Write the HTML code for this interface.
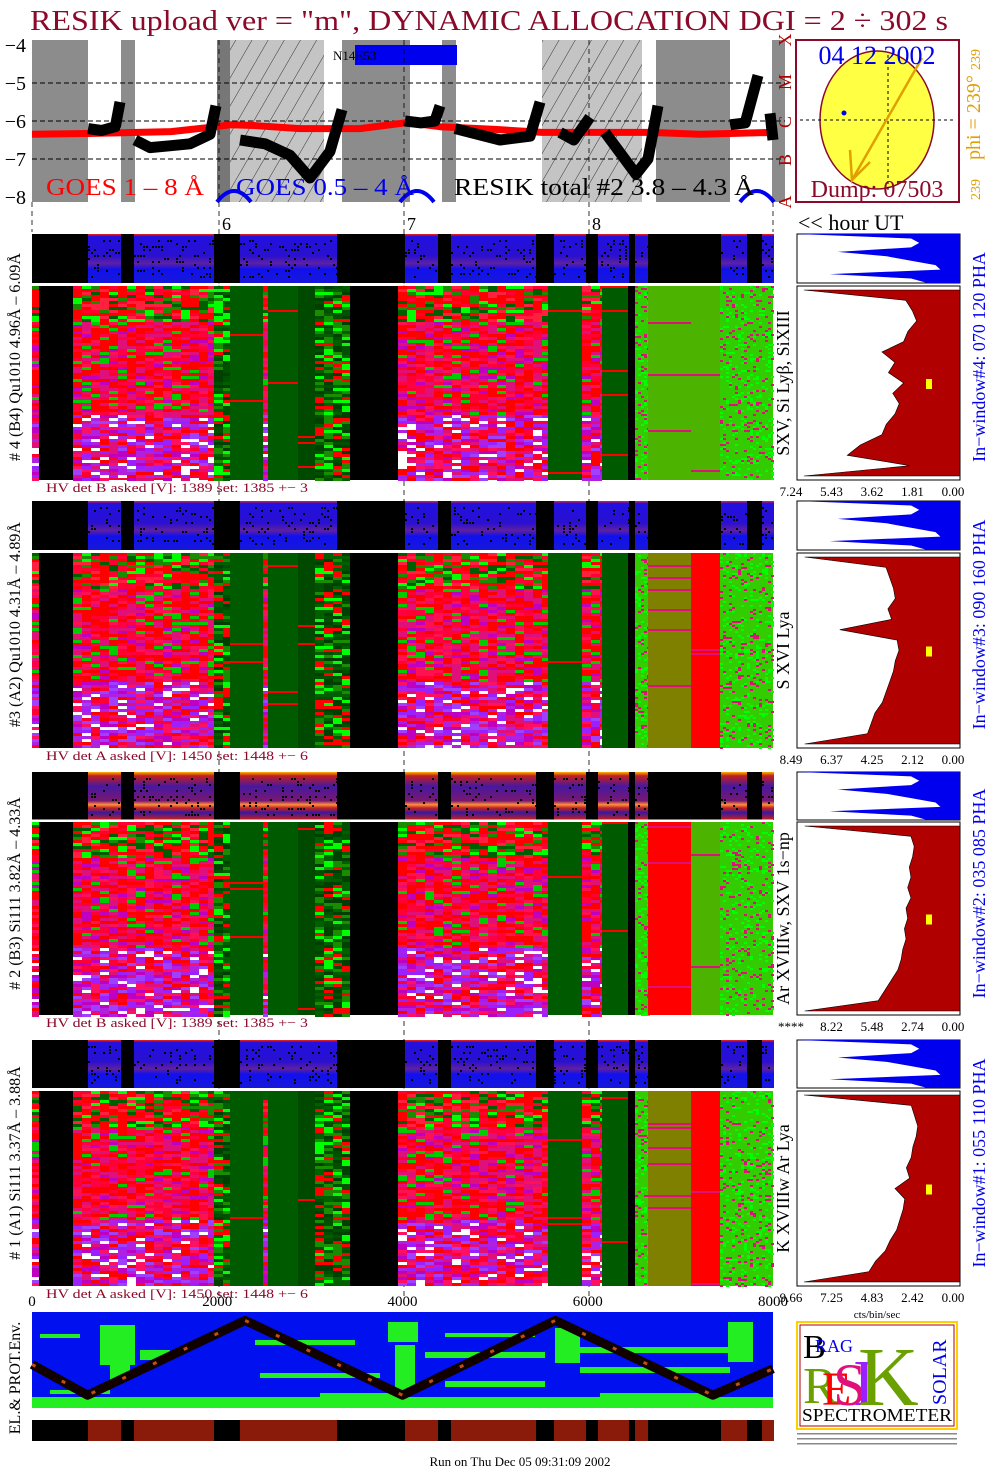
<!DOCTYPE html>
<html><head><meta charset="utf-8"><style>
html,body{margin:0;padding:0;background:#fff;width:1004px;height:1477px;overflow:hidden}
svg{display:block;font-family:"Liberation Serif",serif}
</style></head><body>
<svg id="c" width="1004" height="1477" viewBox="0 0 1004 1477" xmlns="http://www.w3.org/2000/svg">
<text x="30" y="30" font-size="29" fill="#8b0a2a" textLength="918" lengthAdjust="spacingAndGlyphs">RESIK upload ver = "m", DYNAMIC ALLOCATION  DGI =   2 ÷ 302 s</text>
</svg>
<script>
// ---- data ----
const goesT=[0,605,1500,1986,2138,2400,2893,3541,4027,4081,4405,5000,5506,6672,7212,8000];
const goesV=[-6.35,-6.33,-6.28,-6.15,-6.1,-6.12,-6.2,-6.2,-6.05,-6.05,-6.15,-6.22,-6.3,-6.3,-6.35,-6.3];
const resikT1=[605,750,900,950];const resikV1=[-6.2,-6.25,-6.15,-5.5];
const resikT2=[1112,1274,1500,1706,1922,1986];const resikV2=[-6.5,-6.7,-6.65,-6.6,-6.35,-5.6];
const resikT3=[2246,2515,2785,3001,3217,3347];const resikV3=[-6.5,-6.6,-6.9,-7.5,-6.8,-5.7];
const resikT4=[4027,4200,4350,4405];const resikV4=[-6.0,-6.05,-6.0,-5.6];
const resikT5=[4567,5053,5377,5485];const resikV5=[-6.2,-6.5,-6.4,-5.5];
const resikT6=[5700,5850,6024];const resikV6=[-6.3,-6.5,-5.9];
const resikT7=[6186,6521,6650,6758];const resikV7=[-6.3,-7.4,-7.0,-5.6];
const resikT8=[7536,7700,7838];const resikV8=[-6.1,-6.05,-4.8];
const resikT9=[7968,8000];const resikV9=[-5.8,-6.5];
const yTicks=[-4,-5,-6,-7,-8];
const xTicks=[0,2000,4000,6000,8000];
const hist4=[7.2,2.5,2.2,2.0,2.4,2.6,3.6,3.0,3.3,2.6,3.1,2.8,3.0,3.4,3.6,4.6,5.2,2.3,7.2];
const hist3=[8.4,4.0,3.8,3.6,3.5,3.9,3.7,6.5,3.4,3.3,3.5,3.6,3.8,4.0,4.2,4.6,4.8,5.0,8.4];
const hist2=[9.5,3.0,2.8,2.9,3.1,3.0,3.2,3.0,3.3,3.2,3.4,3.3,3.5,3.6,3.8,4.2,4.6,5.0,9.5];
const hist1=[9.6,3.0,2.8,2.6,2.7,2.9,3.0,3.3,3.1,4.0,3.4,3.5,3.7,3.9,4.3,4.6,5.2,5.6,9.6];
const histS=[1.0,0.3,0.25,0.3,0.75,0.45,0.3,0.15,0.12,0.8,0.3,0.2];
const histTick4=["7.24","5.43","3.62","1.81","0.00"];
const histTick3=["8.49","6.37","4.25","2.12","0.00"];
const histTick2=["****","8.22","5.48","2.74","0.00"];
const histTick1=["9.66","7.25","4.83","2.42","0.00"];
// ---- helpers ----
const S=document.getElementById('c');const NS='http://www.w3.org/2000/svg';
function E(t,a,p){const e=document.createElementNS(NS,t);for(const k in a)e.setAttribute(k,a[k]);(p||S).appendChild(e);return e;}
const X0=32,X1=773;
function xs(t){return X0+t/8000*(X1-X0);}
function ys(v){return 45+(-4-v)*38;}
function hsh(a,b){let h=(a*374761393+b*668265263)|0;h=(h^(h>>>13))*1274126177|0;return ((h^(h>>>16))>>>0)/4294967296;}
// ---- top panel ----
const bands=[[32,88,'#8c8c8c'],[88,121,'#fff'],[121,135,'#8c8c8c'],[135,217,'#fff'],[217,230,'#777'],[230,324,'#c4c4c4'],[324,342,'#fff'],[342,410,'#8c8c8c'],[410,442,'#fff'],[442,456,'#8c8c8c'],[456,542,'#fff'],[542,642,'#c4c4c4'],[642,656,'#fff'],[656,730,'#8c8c8c'],[730,772,'#fff'],[772,785,'#8c8c8c']];
const defs=E('defs',{});const pat=E('pattern',{id:'hatch',width:14,height:14,patternUnits:'userSpaceOnUse',patternTransform:'rotate(30)'},defs);E('line',{x1:0,y1:0,x2:0,y2:14,stroke:'#333','stroke-width':1},pat);
const topG=E('g',{});
bands.forEach(b=>{const r=E('rect',{x:b[0],y:40,width:b[1]-b[0],height:162,fill:b[2]},topG);
 if(b[2]=='#c4c4c4')E('rect',{x:b[0],y:40,width:b[1]-b[0],height:162,fill:'url(#hatch)'},topG);});
E('rect',{x:355,y:45,width:102,height:20,fill:'#0000ee'},topG);
const nt=E('text',{x:333,y:60,'font-size':13,fill:'#000'},topG);nt.textContent='N14E53';
[-5,-6,-7].forEach(v=>E('line',{x1:32,x2:785,y1:ys(v),y2:ys(v),stroke:'#000','stroke-dasharray':'5,3'},topG));
yTicks.forEach(v=>{const t=E('text',{x:26,y:ys(v)+7,'font-size':20,'text-anchor':'end'});t.textContent='−'+(-v);});
function line(T,V,col,w,name){const p=E('polyline',{points:T.map((t,i)=>xs(t)+','+ys(V[i])).join(' '),fill:'none',stroke:col,'stroke-width':w,'stroke-linejoin':'round'},topG);}
line(goesT,goesV,'#ff0000',7,'goes-1-8-line');
[[resikT1,resikV1],[resikT2,resikV2],[resikT3,resikV3],[resikT4,resikV4],[resikT5,resikV5],[resikT6,resikV6],[resikT7,resikV7],[resikT8,resikV8],[resikT9,resikV9]].forEach(s=>line(s[0],s[1],'#000',11,'resik-total-line'));
[[217,0],[400,0],[740,0]].forEach(a=>E('path',{d:`M${a[0]} 202 Q${a[0]+17} 180 ${a[0]+34} 202`,fill:'none',stroke:'#0000ee','stroke-width':4},topG));
function tx(x,y,s,fs,col,name,extra){const t=E('text',Object.assign({x:x,y:y,'font-size':fs,fill:col},extra||{}));t.textContent=s;return t;}
tx(46,195,'GOES 1 – 8 Å',24,'#ff0000','legend-goes-1-8',{textLength:158,lengthAdjust:'spacingAndGlyphs'});
tx(236,195,'GOES 0.5 – 4 Å',24,'#0000ee','legend-goes-05-4',{textLength:178,lengthAdjust:'spacingAndGlyphs'});
tx(454,195,'RESIK total #2  3.8 – 4.3 Å',24,'#000','legend-resik-total',{textLength:300,lengthAdjust:'spacingAndGlyphs'});
[['A',202],['B',160],['C',122],['M',82],['X',40]].forEach(a=>tx(791,a[1],a[0],18,'#b00000','goes-class-label',{transform:`rotate(-90 791 ${a[1]})`,'text-anchor':'middle'}));
// hour axis
[[219,'6'],[404,'7'],[589,'8']].forEach(h=>{E('line',{x1:h[0],x2:h[0],y1:40,y2:1300,stroke:'#000','stroke-dasharray':'5,4','stroke-width':0.8});tx(h[0]+3,230,h[1],18,'#000','hour-tick-label');});
E('line',{x1:32,x2:32,y1:202,y2:232,stroke:'#000','stroke-dasharray':'5,4','stroke-width':0.8});
E('line',{x1:773,x2:773,y1:202,y2:232,stroke:'#000','stroke-dasharray':'5,4','stroke-width':0.8});
tx(798,230,'<< hour UT',22,'#000','hour-ut-label');
// sun panel
E('rect',{x:796,y:40,width:163,height:162,fill:'#fff',stroke:'#8b0a2a','stroke-width':2});
E('ellipse',{cx:877,cy:120,rx:57,ry:69,fill:'#ffff44',stroke:'#8b0a2a','stroke-width':1.5});
E('line',{x1:800,x2:955,y1:120,y2:120,stroke:'#000','stroke-dasharray':'3,3'});
E('line',{x1:888,x2:888,y1:55,y2:190,stroke:'#000','stroke-dasharray':'3,3'});
E('polyline',{points:'922,58 852,180 850,150 852,180 870,162',fill:'none',stroke:'#e0a000','stroke-width':2.5});
E('circle',{cx:844,cy:113,r:2.5,fill:'#0000ee'});
tx(877,64,'04 12 2002',26,'#0000ee','date-label',{'text-anchor':'middle'});
tx(877,197,'Dump: 07503',24,'#8b0a2a','dump-label',{'text-anchor':'middle'});
tx(980,200,'239',14,'#e0a000','phi-small',{transform:'rotate(-90 980 200)'});
tx(980,160,'phi = 239°',20,'#e0a000','phi-label',{transform:'rotate(-90 980 160)'});
tx(980,70,'239',14,'#e0a000','phi-small-top',{transform:'rotate(-90 980 70)'});
// ---- detector panels ----
const smallBlue=[[88,121],[134,214],[240,337],[405,438],[451,536],[554,586],[598,629],[635,648],[721,747],[762,774]];
const bigSegs=[[32,39,'mix'],[39,73,'k'],[73,214,'mix'],[214,230,'mixg'],[230,263,'dg'],[263,268,'mix'],[268,298,'dg'],[298,315,'dg2'],[315,350,'mixg'],[350,398,'k'],[398,548,'mix'],[548,582,'dg'],[582,602,'mix'],[602,628,'dg'],[628,635,'k'],[635,648,'sp']];
const dets=[
 {y0:234,y1:283,b0:286,b1:480,hv:'HV det B asked [V]:  1389 set:  1385 +−    3',lab:'# 4 (B4) Qu1010 4.96Å – 6.09Å',line:'SXV, Si Lyβ, SiXIII',win:'In−window#4:  070 120 PHA',right:[[648,691,'grs'],[691,720,'grs'],[720,773,'sp']],small:'blue',hist:hist4,ht:histTick4},
 {y0:501,y1:550,b0:553,b1:748,hv:'HV det A asked [V]:  1450 set:  1448 +−    6',lab:'#3 (A2) Qu1010  4.31Å – 4.89Å',line:'S XVI Lya',win:'In−window#3:  090 160 PHA',right:[[648,691,'ol'],[691,720,'rd'],[720,773,'sp']],small:'blue',hist:hist3,ht:histTick3},
 {y0:772,y1:820,b0:822,b1:1015,hv:'HV det B asked [V]:  1389 set:  1385 +−    3',lab:'# 2 (B3) Si111  3.82Å – 4.33Å',line:'Ar XVIIIw, SXV 1s−np',win:'In−window#2:  035 085 PHA',right:[[648,691,'rd'],[691,720,'grs'],[720,773,'sp']],small:'red',hist:hist2,ht:histTick2},
 {y0:1040,y1:1088,b0:1091,b1:1286,hv:'HV det A asked [V]:  1450 set:  1448 +−    6',lab:'# 1 (A1) Si111  3.37Å – 3.88Å',line:'K XVIIIw  Ar Lya',win:'In−window#1:  055 110 PHA',right:[[648,691,'ol'],[691,720,'rd'],[720,773,'sp']],small:'blue',hist:hist1,ht:histTick1}
];
const mixTop=['#00ff00','#1a8c00','#ff0000','#006000','#ff2040','#ff0000','#ff0033'];
const mixMid=['#ff0000','#ff0033','#e0107a','#ff0000','#ff1050','#c000c0','#ff0000','#e0107a','#00cc00','#ff0040'];
const mixBot=['#9a20ff','#c000c0','#ff0033','#e0107a','#a040ff','#ff0000','#b020e0','#ff1060','#ffffff'];
dets.forEach((d,di)=>{
 const g=E('g',{});
 E('rect',{x:32,y:d.y0,width:741,height:d.y1-d.y0,fill:'#000'},g);
 const gid='sg'+di;const lg=E('linearGradient',{id:gid,x1:0,y1:0,x2:0,y2:1},defs);
 const stops=d.small=='blue'?[[0,'#ff2000'],[0.05,'#2010e0'],[0.45,'#2a10d0'],[0.6,'#6020a0'],[0.72,'#1010ee'],[1,'#1818d8']]:[[0,'#ffb000'],[0.08,'#c02020'],[0.3,'#4818a0'],[0.6,'#7a1870'],[0.68,'#ff9040'],[0.75,'#c02020'],[0.85,'#3818a0'],[1,'#d02010']];
 stops.forEach(s=>E('stop',{offset:s[0],'stop-color':s[1]},lg));
 smallBlue.forEach(s=>{const r=E('rect',{x:s[0],y:d.y0,width:s[1]-s[0],height:d.y1-d.y0,fill:'url(#'+gid+')'},g);
  for(let yy=d.y0+6;yy<d.y1-4;yy+=3)for(let xx=s[0];xx<s[1];xx+=3){if(hsh(xx+di*7,yy)<0.14)E('rect',{x:xx,y:yy,width:2,height:2,fill:'#000'},g);}});
 const segs=bigSegs.concat(d.right);
 segs.forEach(s=>{
  const w=s[1]-s[0],y0=d.b0,h=d.b1-d.b0;
  const base={k:'#000',dg:'#005a00',dg2:'#004a00',ol:'#808000',rd:'#ff0000',grs:'#4cb400',sp:'#33cc00',mix:'#ff0033',mixg:'#1a7000'}[s[2]];
  const r=E('rect',{x:s[0],y:y0,width:w,height:h,fill:base},g);
  if(s[2]=='mix'||s[2]=='mixg'){
   for(let cx=s[0];cx<s[1];cx+=9){const cw=Math.min(9,s[1]-cx);
    for(let yy=y0;yy<d.b1;yy+=3){const f=(yy-y0)/h,u=hsh(cx*3+di,yy);
     let pal=f<0.18?mixTop:(f<0.65?mixMid:mixBot);if(s[2]=='mixg')pal=['#006000','#1a8c00','#00ff00','#ff0000','#004000','#005000'];
     const c=pal[Math.floor(u*pal.length)];if(c!=base)E('rect',{x:cx,y:yy,width:cw,height:3,fill:c},g);}}
  } else if(s[2]=='sp'){
   for(let yy=y0;yy<d.b1;yy+=2)for(let xx=s[0];xx<s[1];xx+=3){const u=hsh(xx+di,yy*5);if(u<0.25)E('rect',{x:xx,y:yy,width:3,height:2,fill:u<0.1?'#e0107a':'#00ff00'},g);}
  } else if(s[2]=='dg'||s[2]=='dg2'){
   for(let yy=y0;yy<d.b1;yy+=6){if(hsh(s[0]+di,yy)<0.06)E('rect',{x:s[0],y:yy,width:w,height:2,fill:'#ff0000'},g);}
  } else if(s[2]=='grs'||s[2]=='ol'||s[2]=='rd'){
   for(let yy=y0;yy<d.b1;yy+=4){const u=hsh(s[0]*7+di,yy);if(u<0.08)E('rect',{x:s[0],y:yy,width:w,height:2,fill:'#e0107a'},g);}
  }
 });
 E('line',{x1:32,x2:773,y1:d.b0-1.5,y2:d.b0-1.5,stroke:'#fff','stroke-width':2},g);
 tx(46,d.b1+12,d.hv,13,'#8b0a2a','hv-label',{textLength:262,lengthAdjust:'spacingAndGlyphs'});
 const lx=20,ly=(d.y0+d.b1)/2;tx(lx,ly,d.lab,16,'#000','detector-label',{transform:`rotate(-90 ${lx} ${ly})`,'text-anchor':'middle'});
 const px=789,py=(d.b0+d.b1)/2;tx(px,py,d.line,18,'#000','line-id-label',{transform:`rotate(-90 ${px} ${py})`,'text-anchor':'middle'});
 const wx=985,wy=(d.y0+d.b1)/2;tx(wx,wy,d.win,18,'#0000ee','window-label',{transform:`rotate(-90 ${wx} ${wy})`,'text-anchor':'middle'});
 const hx0=797,hx1=960;
 E('rect',{x:hx0,y:d.y0,width:hx1-hx0,height:d.y1-d.y0,fill:'#fff',stroke:'#000'},g);
 const sn=histS.length,sh=(d.y1-d.y0)/(sn-1);
 let pts=hx1+','+d.y0;histS.forEach((v,i)=>pts+=' '+(hx1-v*(hx1-hx0))+','+(d.y0+i*sh));pts+=' '+hx1+','+d.y1;
 E('polygon',{points:pts,fill:'#0000ee'},g);
 E('rect',{x:hx0,y:d.b0,width:hx1-hx0,height:d.b1-d.b0,fill:'#fff',stroke:'#000'},g);
 const mx=parseFloat(d.ht[0])||9.6,n=d.hist.length,hh=(d.b1-d.b0-8)/(n-1);
 pts=hx1+','+(d.b0+4);d.hist.forEach((v,i)=>pts+=' '+(hx1-Math.min(v/mx,1)*(hx1-hx0-6))+','+(d.b0+4+i*hh));pts+=' '+hx1+','+(d.b1-4);
 const hp=E('polygon',{points:pts,fill:'#b00000',stroke:'#000','stroke-width':0.6},g);
 E('rect',{x:926,y:(d.b0+d.b1)/2-4,width:6,height:10,fill:'#ffff00'},g);
 d.ht.forEach((t,i)=>tx(hx0-6+i*40.5,d.b1+16,t,13,'#000','hist-tick-label',{'text-anchor':'middle'}));
});
xTicks.forEach(v=>tx(xs(v),1306,String(v),15,'#000','x-tick-label',{'text-anchor':'middle'}));
tx(877,1318,'cts/bin/sec',11,'#000','hist-unit-label',{'text-anchor':'middle'});
// ---- env panel ----
const envT=[0,600,2300,4000,5650,7350,8000];const envV=[0.55,0.9,0.05,0.9,0.05,0.9,0.6];
const eg=E('g',{});
E('rect',{x:32,y:1312,width:741,height:96,fill:'#0010ee'},eg);
E('rect',{x:32,y:1397,width:741,height:11,fill:'#22ee22'},eg);
[[40,1334,40,4],[100,1325,35,40],[110,1365,20,15],[255,1340,100,5],[260,1373,120,5],[320,1393,80,5],[388,1322,30,20],[395,1345,20,45],[425,1352,120,6],[445,1333,90,4],[445,1381,100,6],[555,1328,25,35],[575,1347,170,6],[580,1367,150,6],[728,1322,25,40],[140,1350,30,10],[600,1393,120,5],[50,1390,60,4]].forEach(b=>E('rect',{x:b[0],y:b[1],width:b[2],height:b[3],fill:'#22ee22'},eg));
const zz=E('polyline',{points:envT.map((t,i)=>xs(t)+','+(1316+envV[i]*88)).join(' '),fill:'none',stroke:'#100000','stroke-width':9,'stroke-linejoin':'round'},eg);
E('polyline',{points:envT.map((t,i)=>xs(t)+','+(1316+envV[i]*88)).join(' '),fill:'none',stroke:'#c05010','stroke-width':3,'stroke-dasharray':'4,30'},eg);
tx(20,1378,'EL.& PROT.Env.',16,'#000','env-label',{transform:'rotate(-90 20 1378)','text-anchor':'middle'});
E('rect',{x:32,y:1420,width:741,height:21,fill:'#000'},eg);
smallBlue.forEach(s=>E('rect',{x:s[0],y:1420,width:s[1]-s[0],height:21,fill:'#8a1a0a'},eg));
// logo
const lgG=E('g',{});
E('rect',{x:797,y:1322,width:160,height:107,fill:'#fff',stroke:'#ffd000','stroke-width':2},lgG);
E('rect',{x:800,y:1325,width:154,height:101,fill:'none',stroke:'#b00000','stroke-width':1},lgG);
tx(803,1358,'B',34,'#000','logo-b');tx(815,1352,'RAG',18,'#0000ee','logo-rag');
tx(803,1403,'R',52,'#6aa000','logo-r');tx(822,1405,'E',48,'#ff0000','logo-e');
tx(833,1405,'S',60,'#e0107a','logo-s');tx(853,1405,'I',66,'#9a20ff','logo-i');
tx(858,1405,'K',84,'#6aa000','logo-k');tx(946,1405,'SOLAR',20,'#0000ee','logo-solar',{transform:'rotate(-90 946 1405)'});
tx(877,1421,'SPECTROMETER',18,'#000','logo-spectrometer',{'text-anchor':'middle',textLength:150,lengthAdjust:'spacingAndGlyphs'});
[1433,1438,1443].forEach(y=>E('rect',{x:797,y:y,width:160,height:1.5,fill:'#888'},lgG));
tx(520,1466,'Run on Thu Dec 05 09:31:09 2002',13,'#000','run-date-label',{'text-anchor':'middle'});
</script>
</body></html>
